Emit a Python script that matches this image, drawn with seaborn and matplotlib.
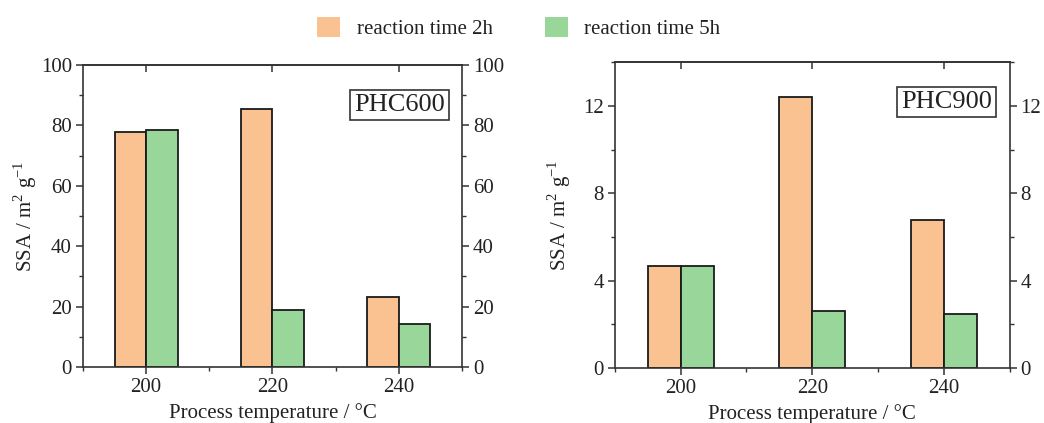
import matplotlib
matplotlib.use("Agg")
import matplotlib.pyplot as plt
import seaborn as sns
import pandas as pd
from matplotlib.patches import Patch
from matplotlib.ticker import MultipleLocator, NullLocator

temps = ["200", "220", "240"]
series_names = ["reaction time 2h", "reaction time 5h"]
phc600_2h = [77.9, 85.5, 23.1]
phc600_5h = [78.6, 19.0, 14.3]
phc900_2h = [4.67, 12.42, 6.79]
phc900_5h = [4.67, 2.59, 2.47]

colors = ["#F9C290", "#98D69A"]

sns.set_theme(style="white")
plt.rcParams['font.family'] = ['Liberation Serif', 'DejaVu Serif']
plt.rcParams['mathtext.fontset'] = 'custom'
plt.rcParams['mathtext.rm'] = 'Liberation Serif'

fig = plt.figure(figsize=(10.44, 4.23), dpi=100)
ax1 = fig.add_axes([0.0795, 0.1324, 0.363, 0.714])
ax2 = fig.add_axes([0.589, 0.130, 0.378, 0.723])


def make_df(v2, v5):
    return pd.DataFrame({
        "temp": temps * 2,
        "series": [series_names[0]] * 3 + [series_names[1]] * 3,
        "ssa": list(v2) + list(v5),
    })


def draw(ax, v2, v5, ymax, major, minor, name, ylabelpad):
    df = make_df(v2, v5)
    sns.barplot(data=df, x="temp", y="ssa", hue="series", order=temps,
                hue_order=series_names, palette=colors, width=0.5, gap=0,
                edgecolor="#1a1a1a", linewidth=1.3, saturation=1,
                legend=False, ax=ax, errorbar=None)
    ax.set_xlim(-0.5, 2.5)
    ax.set_ylim(0, ymax)
    ax.yaxis.set_major_locator(MultipleLocator(major))
    ax.yaxis.set_minor_locator(MultipleLocator(minor))
    ax.xaxis.set_minor_locator(MultipleLocator(0.5))
    for s in ax.spines.values():
        s.set_visible(True)
        s.set_color("#333333")
        s.set_linewidth(1.2)
    ax.tick_params(axis="both", which="major", direction="out", length=5,
                   width=1.1, color="#333333", labelsize=15, pad=3,
                   left=True, bottom=True, right=True, top=False,
                   labelright=True, labelcolor="#222222")
    ax.tick_params(axis="both", which="minor", direction="out", length=3,
                   width=1.0, color="#333333",
                   left=True, bottom=True, right=True, top=False)
    # top ticks pointing inward at the categories
    sec = ax.secondary_xaxis("top")
    sec.set_xticks([0, 1, 2])
    sec.xaxis.set_minor_locator(NullLocator())
    sec.tick_params(axis="x", direction="in", length=5, width=1.1,
                    color="#333333", labeltop=False)
    sec.spines["top"].set_color("#333333")
    sec.spines["top"].set_linewidth(1.2)
    ax.set_xlabel("Process temperature / °C", fontsize=15, color="#222222", labelpad=4)
    ax.set_ylabel("SSA / m$^2$ g$^{-1}$", fontsize=15, color="#222222",
                  labelpad=ylabelpad)
    ax.text(0.955, 0.905, name, transform=ax.transAxes, ha="right", va="top",
            fontsize=19, color="#222222",
            bbox=dict(boxstyle="square,pad=0.15", facecolor="white",
                      edgecolor="#333333", linewidth=1.2))


draw(ax1, phc600_2h, phc600_5h, 100, 20, 10, "PHC600", 1)
draw(ax2, phc900_2h, phc900_5h, 14, 4, 2, "PHC900", 7)
ax2.set_yticks([0, 4, 8, 12])

handles = [Patch(facecolor=c, edgecolor="none") for c in colors]
fig.legend(handles, series_names, loc="center", bbox_to_anchor=(0.497, 0.934),
           ncol=2, frameon=False, fontsize=15, handlelength=1.1,
           handleheight=1.1, columnspacing=2.5, handletextpad=0.8,
           labelcolor="#222222")

fig.savefig("out.png", dpi=100)
